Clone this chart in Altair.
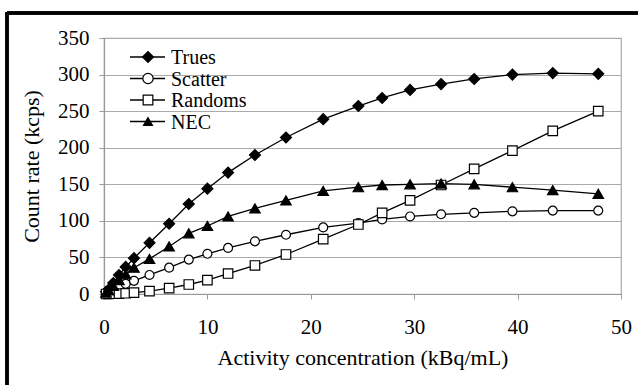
import altair as alt
import pandas as pd

# ---- data ----
activity = [0.2, 0.45, 0.9, 1.45, 2.1, 2.9, 4.4, 6.3, 8.2, 10.0, 12.0, 14.6, 17.6,
            21.2, 24.6, 26.9, 29.6, 32.6, 35.8, 39.5, 43.4, 47.8]
trues = [3, 6, 15, 26, 37, 49, 70, 96, 123, 144, 166, 190, 214,
         239, 257, 268, 279, 287, 294, 300, 302, 301]
scatter = [1, 3, 6, 10, 14, 18, 26, 36, 47, 55, 63, 72, 81,
           91, 97, 102, 106, 109, 111, 113, 114, 114]
randoms = [0, 0.1, 0.3, 0.6, 1, 2, 4, 8, 13, 19, 28, 39, 54,
           75, 95, 111, 128, 149, 171, 196, 223, 250]
nec = [2, 5, 11, 19, 27, 36, 48, 65, 83, 93, 106, 117, 128,
       141, 146, 149, 150, 151, 150, 146, 142, 137]

series_names = ["Trues", "Scatter", "Randoms", "NEC"]
series_values = [trues, scatter, randoms, nec]
x_ticks = [0, 10, 20, 30, 40, 50]
y_ticks = [0, 50, 100, 150, 200, 250, 300, 350]

rows = []
for name, vals in zip(series_names, series_values):
    for a, v in zip(activity, vals):
        rows.append({"activity": a, "rate": v, "series": name})
df = pd.DataFrame(rows)
legend_df = pd.DataFrame({"series": series_names})

SERIF = "Liberation Serif"

marker_shapes = ["diamond", "circle", "square", "triangle-up"]
marker_fills = ["black", "white", "white", "black"]
marker_sizes = [120, 80, 90, 110]

x_enc = alt.X("activity:Q", scale=alt.Scale(domain=[0, 50], nice=False),
              axis=alt.Axis(values=x_ticks, title="Activity concentration (kBq/mL)",
                            grid=False, labelPadding=17, titlePadding=10,
                            labelOverlap=False, labelFlush=False))
y_enc = alt.Y("rate:Q", scale=alt.Scale(domain=[0, 350], nice=False),
              axis=alt.Axis(values=y_ticks, title="Count rate (kcps)",
                            grid=True, labelPadding=10, titlePadding=14,
                            labelOverlap=False, labelFlush=False))

base = alt.Chart(df)

lines = base.mark_line(color="black", strokeWidth=1.3).encode(
    x=x_enc, y=y_enc, detail="series:N"
)

point_layers = []
for name, shp, fil, sz in zip(series_names, marker_shapes, marker_fills, marker_sizes):
    m = base.mark_point(shape=shp, filled=True, fill=fil, stroke="black",
                        strokeWidth=1.2, size=sz, opacity=1)
    point_layers.append(
        m.encode(x=x_enc, y=y_enc).transform_filter(alt.datum.series == name)
    )

main = alt.layer(lines, *point_layers)

# ---- legend drawn as marks (top-left inside the plot) ----
leg_y = alt.Y("series:N", sort=series_names,
              scale=alt.Scale(type="point", domain=series_names, range=[19, 83.5], padding=0),
              axis=None)
lbase = alt.Chart(legend_df)
leg_lines = lbase.mark_rule(color="black", strokeWidth=1.3).encode(
    x=alt.value(26), x2=alt.value(61), y=leg_y
)
leg_points = lbase.mark_point(filled=True, stroke="black", strokeWidth=1.2, opacity=1).encode(
    x=alt.value(44), y=leg_y,
    shape=alt.Shape("series:N", scale=alt.Scale(domain=series_names, range=marker_shapes), legend=None),
    fill=alt.Fill("series:N", scale=alt.Scale(domain=series_names, range=marker_fills), legend=None),
    size=alt.Size("series:N", scale=alt.Scale(domain=series_names, range=marker_sizes), legend=None),
)
leg_text = lbase.mark_text(align="left", baseline="middle", font=SERIF,
                           fontSize=20, color="black", dy=1).encode(
    x=alt.value(67), y=leg_y, text="series:N"
)
legend = alt.layer(leg_lines, leg_points, leg_text)

# outer black frame of the figure (decoration)
frame_top = lbase.mark_rule(color="black", strokeWidth=3).encode(
    x=alt.value(-97), x2=alt.value(534), y=alt.value(-25)
)
frame_left = lbase.mark_rule(color="black", strokeWidth=3).encode(
    x=alt.value(-97), y=alt.value(-26), y2=alt.value(347)
)

chart = alt.layer(main, legend, frame_top, frame_left).resolve_scale(
    y="independent"
).properties(
    width=517, height=256,
    padding={"left": 104, "top": 38, "right": 18, "bottom": 92},
    autosize="none",
    background="white",
).configure_view(
    stroke="#aaaaaa", strokeWidth=1.2
).configure_axis(
    labelFont=SERIF, titleFont=SERIF, labelFontSize=21, titleFontSize=22,
    labelColor="black", titleColor="black", titleFontWeight="normal",
    domainColor="#999999", tickColor="#999999", gridColor="#aaaaaa",
    tickSize=5, domainWidth=1.2, gridWidth=1.2,
).configure_mark(
    font=SERIF
).configure_text(
    font=SERIF
)

chart.save("out.html", embed_options={"renderer": "svg", "actions": False})
